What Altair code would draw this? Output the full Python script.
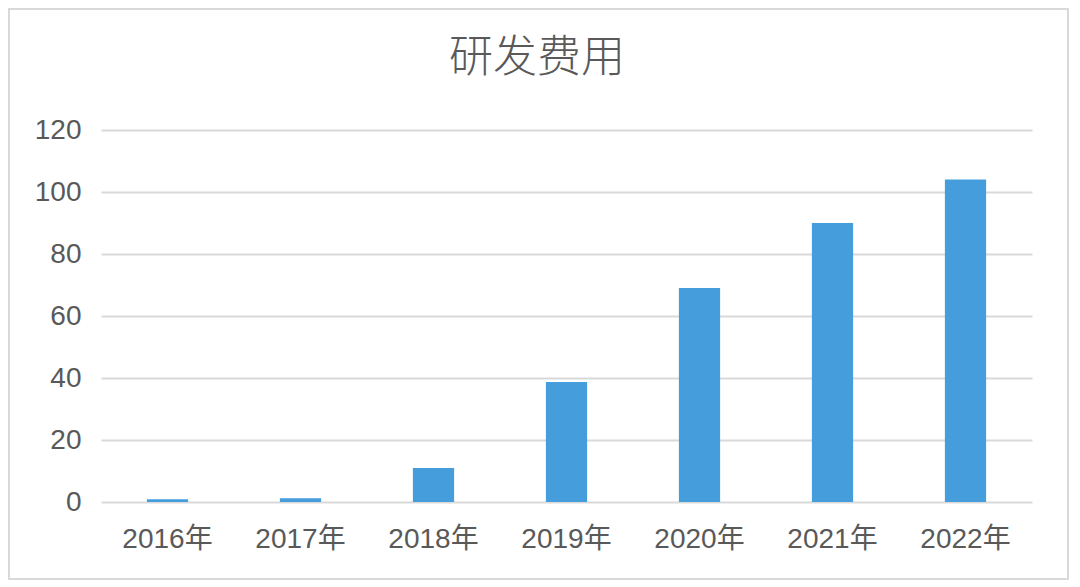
import altair as alt
import pandas as pd

years = ["2016年", "2017年", "2018年", "2019年", "2020年", "2021年", "2022年"]
values = [0.9, 1.2, 11, 38.7, 69, 90, 104]
y_ticks = [0, 20, 40, 60, 80, 100, 120]
title_text = "研发费用"

df = pd.DataFrame({"year": years, "value": values})

FONT = "Liberation Sans, Noto Sans CJK SC, sans-serif"
TEXT = "#595959"
GRID = "#d9d9d9"

bars = alt.Chart(df).mark_bar(color="#469DDB").encode(
    x=alt.X("year:N", sort=years,
            scale=alt.Scale(paddingInner=0.69, paddingOuter=0.345),
            axis=alt.Axis(title=None, labelAngle=0, ticks=False, domain=False,
                          grid=False, labelFontSize=28, labelColor=TEXT,
                          labelFont=FONT, labelPadding=23)),
    y=alt.Y("value:Q", scale=alt.Scale(domain=[0, 120], nice=False),
            axis=alt.Axis(title=None, values=y_ticks, ticks=False, domain=False,
                          gridColor=GRID, gridWidth=2, labelFontSize=28,
                          labelColor=TEXT, labelFont=FONT, labelPadding=20)),
)

one = pd.DataFrame({"t": [title_text]})

border = alt.Chart(one).mark_rect(
    fill=None, stroke=GRID, strokeWidth=2
).encode(
    x=alt.value(-92), x2=alt.value(967), y=alt.value(-121), y2=alt.value(449)
)

title = alt.Chart(one).mark_text(
    font="Noto Sans CJK SC", fontSize=44, fontWeight=300, color=TEXT,
    align="center", baseline="middle"
).encode(text="t:N", x=alt.value(436), y=alt.value(-71))

chart = alt.layer(border, bars, title).properties(
    width=931,
    height=372,
    autosize=alt.AutoSizeParams(type="none"),
    padding={"left": 93, "top": 122, "right": 37, "bottom": 79},
).configure(background="white").configure_view(strokeOpacity=0)

chart.save("out.html", embed_options={"renderer": "svg", "actions": False})
